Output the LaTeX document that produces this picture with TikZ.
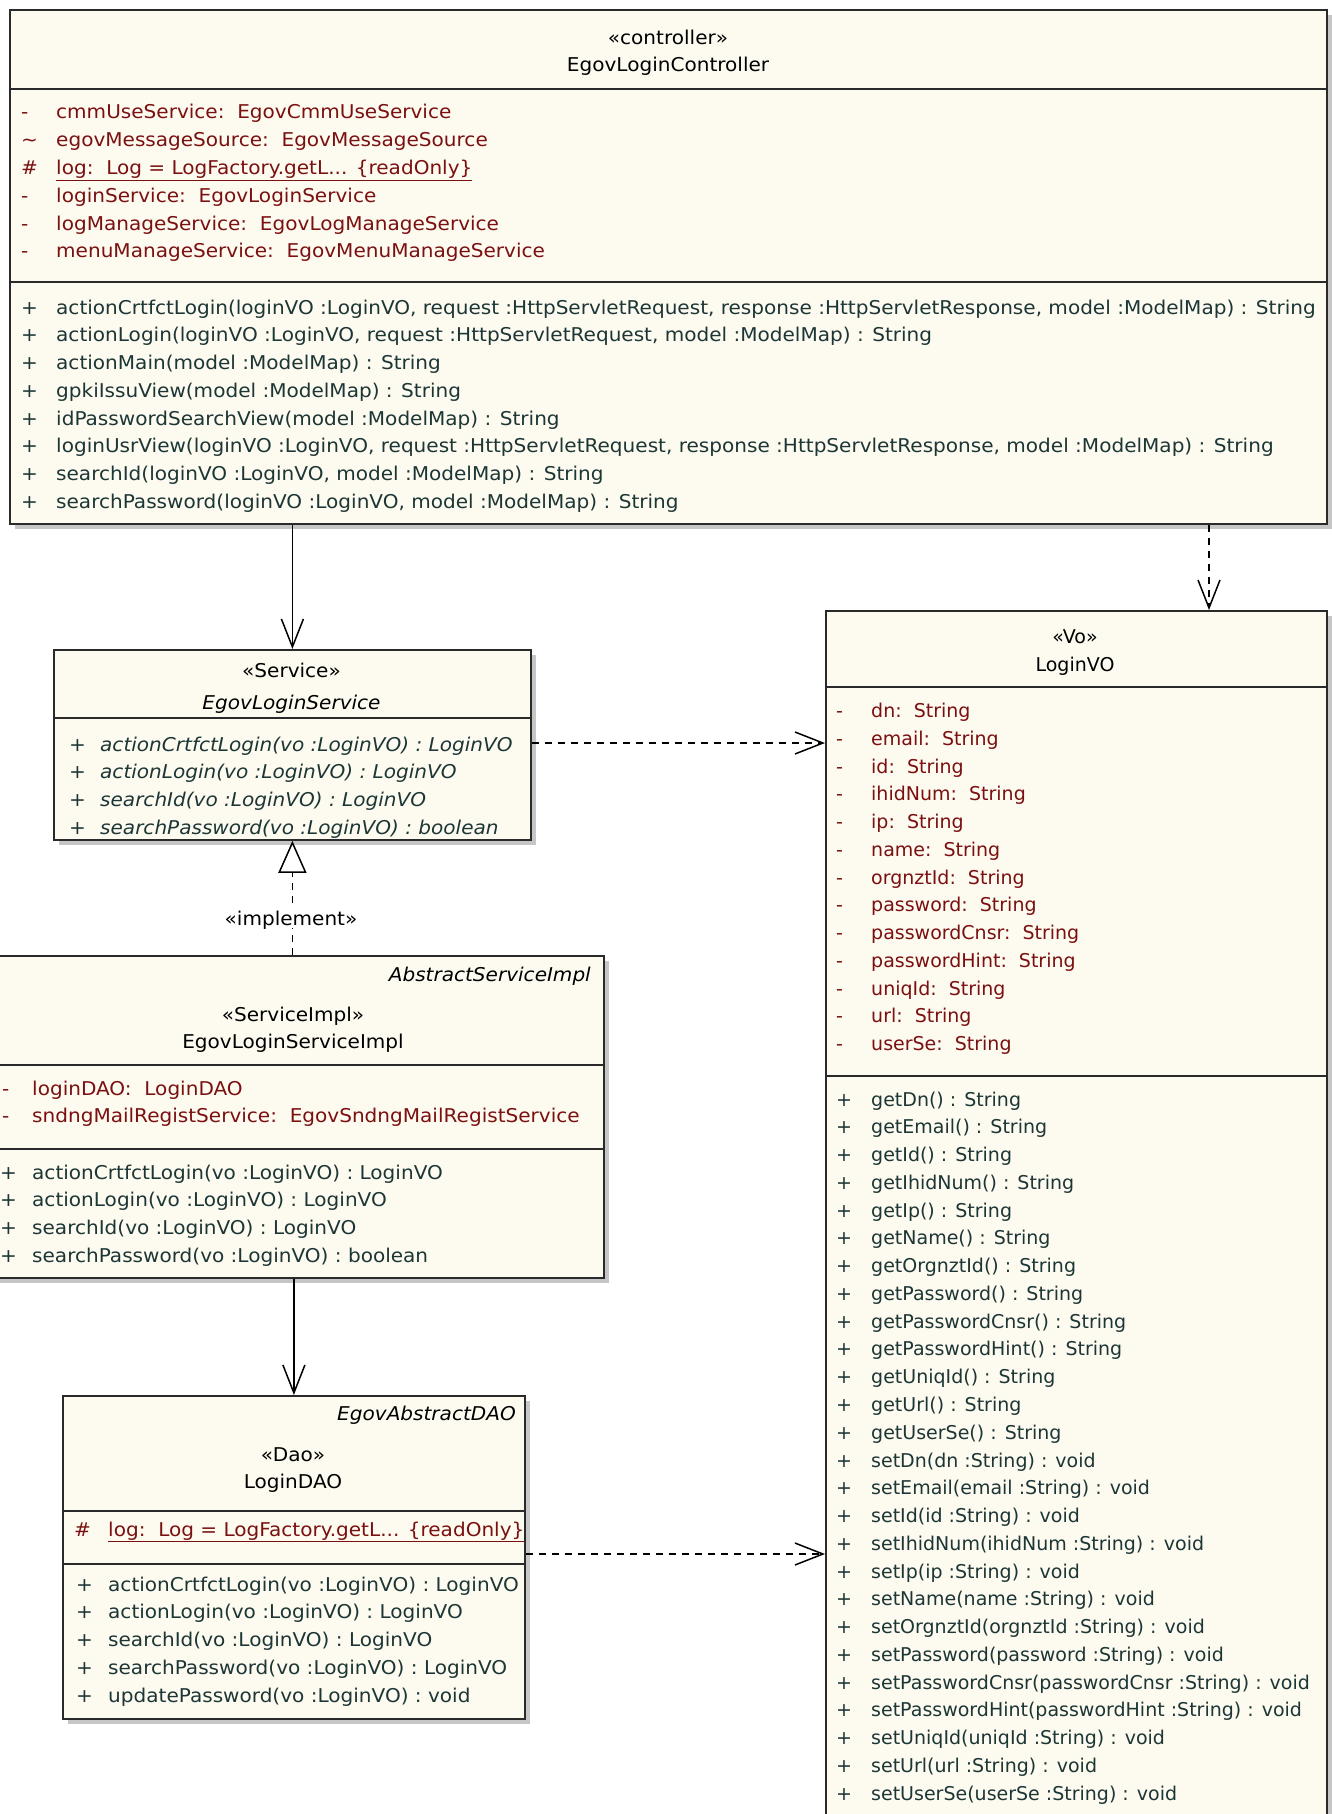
\documentclass[tikz,border=0pt]{standalone}
\usepackage{fontspec}
\setmainfont{DejaVu Sans}
\newfontfamily\widefam[FakeStretch=1.055]{DejaVu Sans}
\usetikzlibrary{arrows.meta,shadows,calc}
\definecolor{cream}{HTML}{FDFAF0}
\definecolor{attrc}{HTML}{7A1010}
\definecolor{methc}{HTML}{1C3636}
\definecolor{shadowc}{HTML}{C6C6C6}
\definecolor{edgec}{HTML}{2A2A2A}
\newcommand\fs{\widefam\fontsize{19}{22}\selectfont}
\newcommand\vfs{\fontsize{19}{22}\selectfont}
\newcommand\rs{27.77}
\tikzset{
  classbox/.style={draw=edgec, line width=1.8pt, fill=cream, inner sep=0pt, anchor=north west,
    drop shadow={shadow xshift=5pt, shadow yshift=-5pt, fill=shadowc, opacity=1}},
  sepline/.style={draw=edgec, line width=1.8pt},
  txt/.style={inner sep=0pt, font=\fs, text height=18pt, text depth=2pt},
  row/.style={txt, anchor=west},
  attr/.style={row, text=attrc},
  meth/.style={row, text=methc},
  imeth/.style={meth, font=\fs\itshape},
  vattr/.style={attr, font=\vfs},
  vmeth/.style={meth, font=\vfs},
  title/.style={txt, anchor=center, text=black},
  vtitle/.style={title, font=\vfs},
  ititle/.style={title, font=\fs\itshape},
  absname/.style={txt, anchor=east, font=\fs\itshape, text=black},
  assoc/.style={draw=black, line width=1.5pt, -{Straight Barb[length=28pt,width=22pt,line width=1.5pt]}},
  depend/.style={assoc, dash pattern=on 7pt off 6pt},
  realize/.style={draw=black, line width=1.5pt, dash pattern=on 7pt off 6pt,
    -{Triangle[open,length=32pt,width=28pt,line width=1.5pt,fill=white]}},
  lbl/.style={txt, anchor=center, text=black}
}
\begin{document}
\begin{tikzpicture}[x=1pt,y=-1pt]
\useasboundingbox (0,0) rectangle (1332,1814);
\fill[white] (0,0) rectangle (1332,1814);
% ---------- class boxes
\node[classbox, minimum width=1317pt, minimum height=514pt] (ctrl) at (9,9) {};
\node[classbox, minimum width=477pt, minimum height=190pt] (svc) at (53,649) {};
\node[classbox, minimum width=620pt, minimum height=322pt] (impl) at (-17,955) {};
\node[classbox, minimum width=462pt, minimum height=323pt] (dao) at (62,1395) {};
\node[classbox, minimum width=501pt, minimum height=1260pt] (vo) at (825,610) {};
% ---------- separators
\draw[sepline] (9,89) -- (1326,89);
\draw[sepline] (9,282) -- (1326,282);
\draw[sepline] (53,718) -- (530,718);
\draw[sepline] (-17,1065) -- (603,1065);
\draw[sepline] (-17,1149) -- (603,1149);
\draw[sepline] (62,1511) -- (524,1511);
\draw[sepline, line width=2.6pt] (62,1564) -- (524,1564);
\draw[sepline] (825,687) -- (1326,687);
\draw[sepline] (825,1076) -- (1326,1076);
% ---------- EgovLoginController
\node[title] (ctrlS) at (668,37) {«controller»};
\node[title] (ctrlN) at (668,64) {EgovLoginController};
\foreach \v/\t [count=\i] in {
  -/{cmmUseService:\ \ EgovCmmUseService},
  \textasciitilde/{egovMessageSource:\ \ EgovMessageSource},
  \#/{\underline{log:\ \ Log = LogFactory.getL... \{readOnly\}}},
  -/{loginService:\ \ EgovLoginService},
  -/{logManageService:\ \ EgovLogManageService},
  -/{menuManageService:\ \ EgovMenuManageService}}{
  \node[attr] (cav\i) at (21,{111+(\i-1)*\rs}) {\v};
  \node[attr] (cat\i) at (56,{111+(\i-1)*\rs}) {\t};
}
\foreach \t [count=\i] in {
  {actionCrtfctLogin(loginVO :LoginVO, request :HttpServletRequest, response :HttpServletResponse, model :ModelMap) : String},
  {actionLogin(loginVO :LoginVO, request :HttpServletRequest, model :ModelMap) : String},
  {actionMain(model :ModelMap) : String},
  {gpkiIssuView(model :ModelMap) : String},
  {idPasswordSearchView(model :ModelMap) : String},
  {loginUsrView(loginVO :LoginVO, request :HttpServletRequest, response :HttpServletResponse, model :ModelMap) : String},
  {searchId(loginVO :LoginVO, model :ModelMap) : String},
  {searchPassword(loginVO :LoginVO, model :ModelMap) : String}}{
  \node[meth] (cmv\i) at (21,{306+(\i-1)*\rs}) {+};
  \node[meth] (cmt\i) at (56,{306+(\i-1)*\rs}) {\t};
}
% ---------- EgovLoginService
\node[title] (svcS) at (291.5,669) {«Service»};
\node[ititle] (svcN) at (291.5,701) {EgovLoginService};
\foreach \t [count=\i] in {
  {actionCrtfctLogin(vo :LoginVO) : LoginVO},
  {actionLogin(vo :LoginVO) : LoginVO},
  {searchId(vo :LoginVO) : LoginVO},
  {searchPassword(vo :LoginVO) : boolean}}{
  \node[meth] (smv\i) at (69,{743+(\i-1)*\rs}) {+};
  \node[imeth] (smt\i) at (100,{743+(\i-1)*\rs}) {\t};
}
% ---------- EgovLoginServiceImpl
\node[absname] (implA) at (591,973) {AbstractServiceImpl};
\node[title] (implS) at (293,1013) {«ServiceImpl»};
\node[title] (implN) at (293,1040) {EgovLoginServiceImpl};
\foreach \t [count=\i] in {
  {loginDAO:\ \ LoginDAO},
  {sndngMailRegistService:\ \ EgovSndngMailRegistService}}{
  \node[attr] (iav\i) at (2,{1087+(\i-1)*\rs}) {-};
  \node[attr] (iat\i) at (32,{1087+(\i-1)*\rs}) {\t};
}
\foreach \t [count=\i] in {
  {actionCrtfctLogin(vo :LoginVO) : LoginVO},
  {actionLogin(vo :LoginVO) : LoginVO},
  {searchId(vo :LoginVO) : LoginVO},
  {searchPassword(vo :LoginVO) : boolean}}{
  \node[meth] (imv\i) at (0,{1171+(\i-1)*\rs}) {+};
  \node[meth] (imt\i) at (32,{1171+(\i-1)*\rs}) {\t};
}
% ---------- LoginDAO
\node[absname] (daoA) at (516,1412) {EgovAbstractDAO};
\node[title] (daoS) at (293,1453) {«Dao»};
\node[title] (daoN) at (293,1480) {LoginDAO};
\node[attr] (dav1) at (74,1528) {\#};
\node[attr] (dat1) at (108,1528) {\underline{log:\ \ Log = LogFactory.getL... \{readOnly\}}};
\foreach \t [count=\i] in {
  {actionCrtfctLogin(vo :LoginVO) : LoginVO},
  {actionLogin(vo :LoginVO) : LoginVO},
  {searchId(vo :LoginVO) : LoginVO},
  {searchPassword(vo :LoginVO) : LoginVO},
  {updatePassword(vo :LoginVO) : void}}{
  \node[meth] (dmv\i) at (76,{1583+(\i-1)*\rs}) {+};
  \node[meth] (dmt\i) at (108,{1583+(\i-1)*\rs}) {\t};
}
% ---------- LoginVO
\node[vtitle] (voS) at (1075,635) {«Vo»};
\node[vtitle] (voN) at (1075,663) {LoginVO};
\foreach \t [count=\i] in {dn,email,id,ihidNum,ip,name,orgnztId,password,passwordCnsr,passwordHint,uniqId,url,userSe}{
  \node[vattr] (vav\i) at (836,{709.5+(\i-1)*\rs}) {-};
  \node[vattr] (vat\i) at (871,{709.5+(\i-1)*\rs}) {\t:\ \ String};
}
\foreach \t [count=\i] in {
  {getDn() : String},{getEmail() : String},{getId() : String},{getIhidNum() : String},
  {getIp() : String},{getName() : String},{getOrgnztId() : String},{getPassword() : String},
  {getPasswordCnsr() : String},{getPasswordHint() : String},{getUniqId() : String},
  {getUrl() : String},{getUserSe() : String},
  {setDn(dn :String) : void},{setEmail(email :String) : void},{setId(id :String) : void},
  {setIhidNum(ihidNum :String) : void},{setIp(ip :String) : void},{setName(name :String) : void},
  {setOrgnztId(orgnztId :String) : void},{setPassword(password :String) : void},
  {setPasswordCnsr(passwordCnsr :String) : void},{setPasswordHint(passwordHint :String) : void},
  {setUniqId(uniqId :String) : void},{setUrl(url :String) : void},{setUserSe(userSe :String) : void}}{
  \node[vmeth] (vmv\i) at (836,{1098+(\i-1)*\rs}) {+};
  \node[vmeth] (vmt\i) at (871,{1098+(\i-1)*\rs}) {\t};
}
% ---------- connectors
\coordinate (voTop) at ($(vo.north west)+(384,0)$);
\coordinate (voA) at ($(vo.north west)+(0,133)$);
\coordinate (voB) at ($(vo.north west)+(0,944)$);
\draw[assoc] (ctrl.south -| svc.north) -- (svc.north);
\draw[depend] (ctrl.south -| voTop) -- (voTop);
\draw[depend] (svc.east |- voA) -- (voA);
\draw[realize] (impl.north -| svc.south) -- (svc.south);
\node[lbl, fill=white, inner sep=1pt] (implLbl) at (291,917) {«implement»};
\draw[assoc] (impl.south -| dao.north) -- (dao.north);
\draw[depend] (dao.east |- voB) -- (voB);
\end{tikzpicture}
\end{document}
